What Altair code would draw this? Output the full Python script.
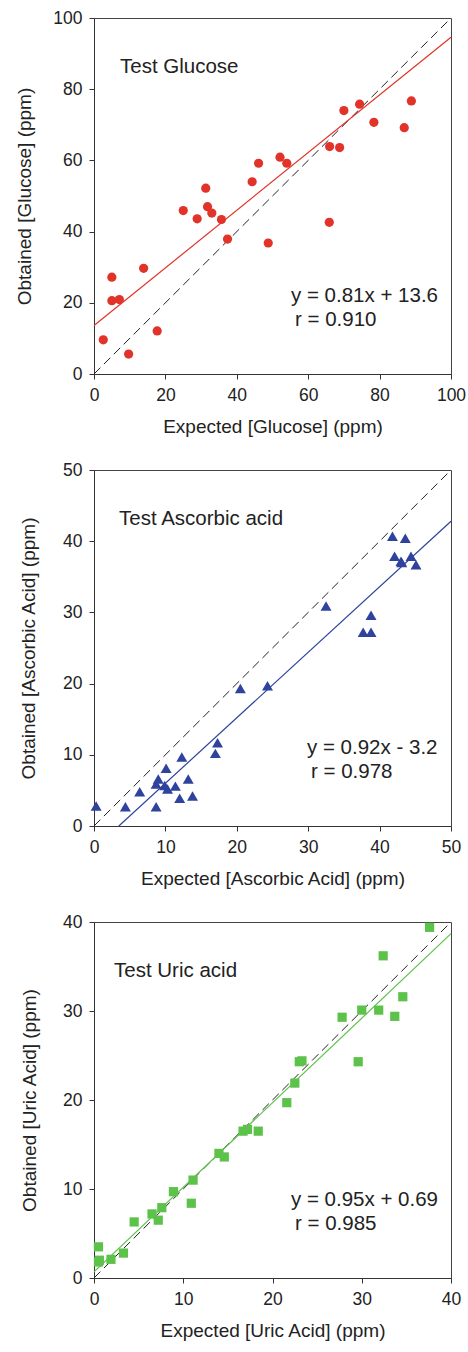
import altair as alt
import pandas as pd

FONT = "Liberation Sans"

# ---------------- data ----------------
glu_x = [2.6, 5.0, 5.0, 7.1, 9.7, 13.9, 17.7, 25.0, 28.9, 31.3, 31.8, 33.0, 35.7, 37.4,
         44.3, 46.1, 48.8, 52.1, 54.0, 66.0, 65.9, 68.8, 70.0, 74.4, 78.4, 86.9, 88.9]
glu_y = [9.6, 27.2, 20.6, 20.9, 5.6, 29.7, 12.1, 45.9, 43.6, 52.2, 47.0, 45.2, 43.4, 37.9,
         54.0, 59.2, 36.8, 60.9, 59.2, 63.9, 42.6, 63.6, 74.0, 75.8, 70.7, 69.2, 76.7]

asc_x = [0.3, 4.4, 6.4, 8.7, 8.7, 9.0, 10.1, 9.9, 10.3, 11.4, 12.0, 12.3, 13.2, 13.8,
         17.0, 17.3, 20.5, 24.3, 32.5, 37.7, 38.8, 38.8, 41.8, 42.1, 43.0, 43.1, 43.6, 44.4, 45.1]
asc_y = [2.8, 2.7, 4.8, 2.7, 5.9, 6.6, 8.1, 5.7, 5.2, 5.6, 3.9, 9.7, 6.6, 4.2,
         10.2, 11.7, 19.3, 19.7, 30.9, 27.2, 27.2, 29.6, 40.7, 37.9, 37.2, 37.0, 40.4, 37.9, 36.7]

uric_x = [0.5, 0.5, 0.6, 1.9, 3.3, 4.5, 6.5, 7.2, 7.6, 8.9, 10.9, 11.1, 14.0, 14.6, 16.7,
          17.2, 18.4, 21.6, 22.5, 23.0, 23.3, 27.8, 29.6, 30.0, 31.9, 32.4, 33.7, 34.6, 37.6]
uric_y = [3.5, 1.8, 2.0, 2.1, 2.8, 6.3, 7.2, 6.5, 7.9, 9.7, 8.4, 11.0, 14.0, 13.6, 16.5,
          16.7, 16.5, 19.7, 21.9, 24.3, 24.4, 29.3, 24.3, 30.1, 30.1, 36.2, 29.4, 31.6, 39.4]

# fitted equations as printed on the chart
fit_slope = [0.81, 0.92, 0.95]
fit_intercept = [13.6, -3.2, 0.69]

titles = ["Test Glucose", "Test Ascorbic acid", "Test Uric acid"]
eq_texts = ["y = 0.81x + 13.6", "y = 0.92x - 3.2", "y = 0.95x + 0.69"]
r_texts = ["r = 0.910", "r = 0.978", "r = 0.985"]
x_titles = ["Expected [Glucose] (ppm)", "Expected [Ascorbic Acid] (ppm)", "Expected [Uric Acid] (ppm)"]
y_titles = ["Obtained [Glucose] (ppm)", "Obtained [Ascorbic Acid] (ppm)", "Obtained [Uric Acid] (ppm)"]
axis_max = [100, 50, 40]
tick_vals = [[0, 20, 40, 60, 80, 100], [0, 10, 20, 30, 40, 50], [0, 10, 20, 30, 40]]
colors = ["#e2332a", "#2e429e", "#5cc24a"]
shapes = ["circle", "triangle-up", "square"]
sizes = [85, 120, 85]

W, H = 357, 356


def panel(i, xs, ys, title_x, eq_x, ytitle_pad):
    m, b, dmax = fit_slope[i], fit_intercept[i], axis_max[i]
    xscale = alt.Scale(domain=[0, dmax], nice=False, zero=True)
    yscale = alt.Scale(domain=[0, dmax], nice=False, zero=True)
    xax = alt.Axis(values=tick_vals[i], title=x_titles[i], grid=False, tickSize=5,
                   labelPadding=7, titlePadding=14, labelFlush=False,
                   labelFont=FONT, labelFontSize=17.5, labelColor="#222",
                   titleFont=FONT, titleFontSize=19, titleFontWeight="normal", titleColor="#222",
                   domainColor="#333", tickColor="#333")
    yax = alt.Axis(values=tick_vals[i], title=y_titles[i], grid=False, tickSize=5,
                   labelPadding=7, titlePadding=ytitle_pad, labelFlush=False,
                   labelFont=FONT, labelFontSize=17.5, labelColor="#222",
                   titleFont=FONT, titleFontSize=19, titleFontWeight="normal", titleColor="#222",
                   domainColor="#333", tickColor="#333")

    pts = pd.DataFrame({"x": xs, "y": ys})
    ident = pd.DataFrame({"x": [0, dmax], "y": [0, dmax]})
    x0 = max(0.0, -b / m)
    fit = pd.DataFrame({"x": [x0, dmax], "y": [m * x0 + b, m * dmax + b]})

    base_x = alt.X("x:Q", scale=xscale, axis=xax)
    base_y = alt.Y("y:Q", scale=yscale, axis=yax)

    l_ident = alt.Chart(ident).mark_line(color="#222", strokeWidth=1, strokeDash=[9, 5]).encode(
        x=base_x, y=base_y)
    l_fit = alt.Chart(fit).mark_line(color=colors[i], strokeWidth=1.2).encode(x="x:Q", y="y:Q")
    p = alt.Chart(pts).mark_point(shape=shapes[i], filled=True, opacity=1, color=colors[i],
                                  size=sizes[i]).encode(x="x:Q", y="y:Q")

    def txt(s, px, py, size=20.5):
        return alt.Chart(pd.DataFrame({"t": [s]})).mark_text(
            align="left", baseline="middle", font=FONT, fontSize=size, color="#222"
        ).encode(text="t:N", x=alt.value(px), y=alt.value(py))

    t1 = txt(titles[i], title_x, 49)
    t2 = txt(eq_texts[i], eq_x, 278)
    t3 = txt(r_texts[i], eq_x + 4, 302)
    return alt.layer(l_ident, l_fit, p, t1, t2, t3).properties(width=W, height=H)


c1 = panel(0, glu_x, glu_y, 26, 197, 18)
c2 = panel(1, asc_x, asc_y, 25, 213, 24)
c3 = panel(2, uric_x, uric_y, 20, 197, 23)

chart = alt.vconcat(c1, c2, c3, spacing=23).properties(
    padding={"left": 15, "top": 8, "right": 0, "bottom": 0},
    background="white"
).configure_view(
    stroke="#444", strokeWidth=1
)

chart.save("out.html", embed_options={"renderer": "svg", "actions": False})
